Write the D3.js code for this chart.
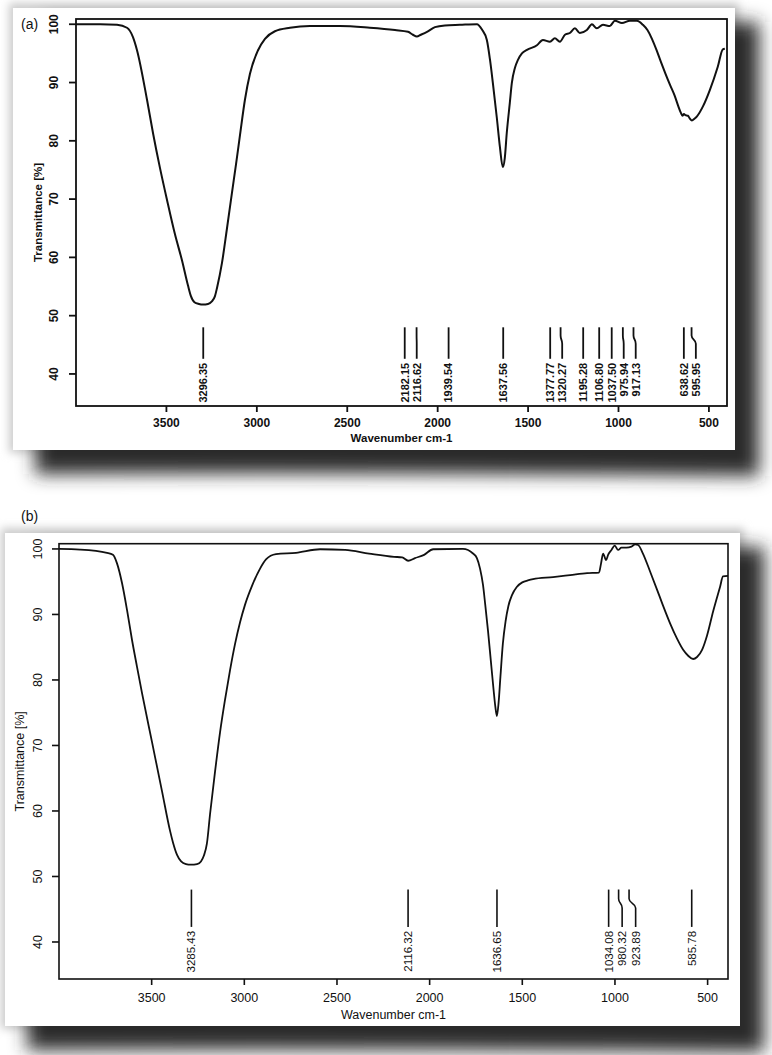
<!DOCTYPE html>
<html>
<head>
<meta charset="utf-8">
<script src="https://cdn.jsdelivr.net/npm/d3@7"></script>
<style>
  html, body { margin: 0; padding: 0; background: #ffffff; }
  svg { display: block; }
</style>
</head>
<body>
<div id="chart"></div>
<script>
// ---------------- DATA ----------------
// Panel (a) spectrum: wavenumber (cm-1) and transmittance (%)
const waveA = [4000,3867,3773,3718,3685,3663,3607,3574,3536,3497,3453,3414,3381,3365,3345,3320,3298,3270,3250,3232,3220,3193,3165,3138,3115,3093,3066,3038,2994,2955,2900,2817,2706,2540,2375,2236,2164,2137,2115,2093,2059,2015,1960,1877,1783,1755,1728,1711,1695,1673,1656,1640,1629,1618,1601,1590,1573,1556,1534,1506,1451,1418,1379,1352,1324,1296,1269,1241,1214,1175,1147,1120,1086,1048,1020,981,937,898,865,840,815,790,765,740,715,690,670,655,645,638,630,616,605,594,580,566,533,495,451,423,412];
const transA = [100.0,100.0,99.9,99.4,97.8,95.6,87.0,81.3,75.4,69.9,64.0,59.5,55.2,53.4,52.3,52.0,51.9,52.0,52.4,53.3,54.8,59.0,65.0,71.0,76.0,81.0,87.0,91.5,95.5,97.5,98.8,99.4,99.7,99.7,99.4,99.0,98.7,98.2,97.9,98.2,98.7,99.5,99.8,99.9,100.0,99.1,97.3,94.0,90.0,84.0,79.0,75.5,77.0,81.3,86.5,89.9,92.5,93.9,95.0,95.6,96.4,97.3,97.0,97.6,97.0,98.2,98.5,99.3,98.5,99.0,100.0,99.3,99.9,99.7,100.6,100.2,100.6,100.6,99.9,99.0,97.5,95.6,93.5,91.5,89.6,87.8,86.0,84.8,84.3,84.6,84.4,84.3,83.8,83.5,83.8,84.2,85.9,88.7,92.7,95.7,95.8];
const peaksA = [3296.35,2182.15,2116.62,1939.54,1637.56,1377.77,1320.27,1195.28,1106.80,1037.50,975.94,917.13,638.62,595.95];
const peakLabelsA = ["3296.35","2182.15","2116.62","1939.54","1637.56","1377.77","1320.27","1195.28","1106.80","1037.50","975.94","917.13","638.62","595.95"];

// Panel (b) spectrum
const waveB = [4000,3887,3741,3709,3687,3660,3633,3606,3579,3552,3498,3444,3401,3385,3363,3341,3315,3288,3255,3234,3218,3202,3185,3158,3131,3104,3077,3050,3023,2996,2958,2915,2883,2829,2721,2591,2456,2327,2192,2148,2116,2079,2030,1981,1820,1766,1745,1728,1712,1700,1685,1670,1655,1645,1637,1628,1618,1605,1590,1575,1555,1530,1500,1470,1442,1334,1242,1150,1086,1075,1064,1048,1037,1019,1001,983,965,938,911,891,875,849,811,773,740,702,665,632,605,578,557,530,503,470,433,417,390];
const transB = [100.0,99.9,99.4,99.1,97.8,94.8,90.7,86.1,82.0,78.0,70.5,63.0,57.0,55.2,53.3,52.3,51.9,51.8,51.9,52.3,53.2,55.0,59.5,66.0,72.0,77.0,81.5,85.5,88.8,91.5,94.4,97.0,98.4,99.2,99.4,99.95,99.85,99.3,98.8,98.7,98.2,98.6,99.1,99.95,100.0,99.3,98.6,97.0,94.5,91.5,87.5,83.0,78.5,75.8,74.5,76.5,80.5,85.5,89.0,91.3,93.0,94.2,94.9,95.2,95.4,95.7,96.0,96.3,96.4,97.8,99.3,98.3,99.1,99.85,100.5,99.85,100.2,100.2,100.35,100.7,100.6,99.3,96.6,93.8,91.3,88.6,86.3,84.6,83.7,83.2,83.5,84.6,86.8,90.5,94.2,95.8,95.9];
const peaksB = [3285.43,2116.32,1636.65,1034.08,980.32,923.89,585.78];
const peakLabelsB = ["3285.43","2116.32","1636.65","1034.08","980.32","923.89","585.78"];

// Axis tick values and labels
const xTicks = [3500,3000,2500,2000,1500,1000,500];
const yTicks = [40,50,60,70,80,90,100];
const xTitle = "Wavenumber cm-1";
const yTitle = "Transmittance [%]";
const panelTags = ["(a)","(b)"];

// ---------------- DRAW ----------------
const W = 772, H = 1055;
const svg = d3.select("#chart").append("svg").attr("width", W).attr("height", H);
const defs = svg.append("defs");
defs.append("filter").attr("id","blurShadow").attr("x","-20%").attr("y","-20%").attr("width","140%").attr("height","140%")
  .append("feGaussianBlur").attr("stdDeviation", 9);
defs.append("filter").attr("id","blurGlow").attr("x","-20%").attr("y","-20%").attr("width","140%").attr("height","140%")
  .append("feGaussianBlur").attr("stdDeviation", 4);

function drawPanel(cfg) {
  const g = svg.append("g");
  const c = cfg.card;
  // glow and page shadow
  g.append("rect").attr("x", c.x - 4).attr("y", c.y - 5).attr("width", c.w + 8).attr("height", c.h + 8)
    .attr("fill", "#cccccc").attr("filter", "url(#blurGlow)");
  g.append("path")
    .attr("d", `M${c.x + 30},${c.y + 14} L${c.x + c.w + 24},${c.y + 14} L${c.x + c.w + 24},${c.y + c.h + 26}
               Q${c.x + c.w * 0.5},${c.y + c.h + 22} ${c.x + 22},${c.y + c.h + 24} Z`)
    .attr("fill", "#2a2a2a").attr("filter", "url(#blurShadow)");
  g.append("rect").attr("x", c.x).attr("y", c.y).attr("width", c.w).attr("height", c.h).attr("fill", "#ffffff");

  const p = cfg.plot;
  const x = d3.scaleLinear().domain(cfg.xDomain).range([p.l, p.r]);
  const y = d3.scaleLinear().domain(cfg.yDomain).range([p.b, p.t]);
  const font = "'Liberation Sans', Arial, sans-serif";
  const fw = cfg.bold ? "bold" : "normal";

  // curve
  const pts = cfg.wave.map((w, i) => [w, cfg.trans[i]]);
  g.append("path").datum(pts)
    .attr("d", d3.line().x(d => x(d[0])).y(d => y(d[1])).curve(d3.curveMonotoneX))
    .attr("fill", "none").attr("stroke", "#111").attr("stroke-width", cfg.lineW).attr("stroke-linejoin", "round");

  // box
  g.append("rect").attr("x", p.l).attr("y", p.t).attr("width", p.r - p.l).attr("height", p.b - p.t)
    .attr("fill", "none").attr("stroke", "#111").attr("stroke-width", cfg.boxW);

  // x ticks
  xTicks.forEach(v => {
    g.append("line").attr("x1", x(v)).attr("x2", x(v)).attr("y1", p.b).attr("y2", p.b + 6)
      .attr("stroke", "#111").attr("stroke-width", cfg.boxW);
    g.append("text").attr("x", x(v)).attr("y", cfg.xTickY).attr("text-anchor", "middle")
      .attr("font-family", font).attr("font-weight", fw).attr("font-size", cfg.tickFs).attr("fill", "#111").text(v);
  });
  // y ticks
  yTicks.forEach(v => {
    g.append("line").attr("x1", p.l - 7).attr("x2", p.l).attr("y1", y(v)).attr("y2", y(v))
      .attr("stroke", "#111").attr("stroke-width", cfg.boxW);
    g.append("text").attr("x", cfg.yTickX).attr("y", y(v)).attr("dy", "0.35em")
      .attr("transform", `rotate(-90,${cfg.yTickX},${y(v)})`).attr("text-anchor", "middle")
      .attr("font-family", font).attr("font-weight", fw).attr("font-size", cfg.tickFs).attr("fill", "#111").text(v);
  });
  // titles
  g.append("text").attr("x", (p.l + p.r) / 2).attr("y", cfg.xTitleY).attr("text-anchor", "middle")
    .attr("font-family", font).attr("font-weight", fw).attr("font-size", cfg.titleFs).attr("fill", "#111").text(xTitle);
  const yc = (p.t + p.b) / 2;
  g.append("text").attr("x", cfg.yTitleX).attr("y", yc).attr("dy", "0.35em")
    .attr("transform", `rotate(-90,${cfg.yTitleX},${yc})`).attr("text-anchor", "middle")
    .attr("font-family", font).attr("font-weight", fw).attr("font-size", cfg.titleFs).attr("fill", "#111").text(yTitle);
  // tag
  g.append("text").attr("x", cfg.tag.x).attr("y", cfg.tag.y)
    .attr("font-family", "'Liberation Sans', Arial, sans-serif").attr("font-size", 14).attr("fill", "#111").text(cfg.tagText);

  // peak markers with simple label spacing
  const order = cfg.peaks.map((v, i) => i).sort((a, b) => x(cfg.peaks[a]) - x(cfg.peaks[b]));
  const lx = new Array(cfg.peaks.length);
  let prev = -Infinity;
  order.forEach(i => {
    const px = Math.max(x(cfg.peaks[i]), prev + cfg.minSep);
    lx[i] = px; prev = px;
  });
  const bump = d3.line().curve(d3.curveBumpY);
  cfg.peaks.forEach((v, i) => {
    const x0 = x(v), x1 = lx[i];
    const path = [[x0, y(48)], [x0, y(46.6)], [x1, y(45.2)], [x1, y(cfg.lineBottom)]];
    g.append("path").attr("d", bump(path)).attr("fill", "none").attr("stroke", "#111").attr("stroke-width", cfg.peakW);
    const ty = y(cfg.lineBottom) + 4;
    g.append("text").attr("x", x1).attr("y", ty).attr("dy", "0.35em")
      .attr("transform", `rotate(-90,${x1},${ty})`).attr("text-anchor", "end")
      .attr("font-family", font).attr("font-weight", fw).attr("font-size", cfg.peakFs).attr("fill", "#111")
      .text(cfg.peakLabels[i]);
  });
}

drawPanel({
  card: {x: 13, y: 8, w: 722, h: 442},
  plot: {l: 76, r: 727, t: 19, b: 406},
  xDomain: [4000, 400], yDomain: [34.5, 100.9],
  wave: waveA, trans: transA, peaks: peaksA, peakLabels: peakLabelsA,
  bold: true, tickFs: 12, titleFs: 11.5, peakFs: 11, minSep: 12, lineBottom: 42.6,
  lineW: 2, boxW: 1.8, peakW: 1.8,
  xTickY: 427, xTitleY: 442, yTickX: 54, yTitleX: 38,
  tag: {x: 21, y: 29}, tagText: panelTags[0]
});

drawPanel({
  card: {x: 5, y: 533, w: 735, h: 493},
  plot: {l: 59, r: 728, t: 543.7, b: 979},
  xDomain: [4000, 390], yDomain: [34.35, 100.8],
  wave: waveB, trans: transB, peaks: peaksB, peakLabels: peakLabelsB,
  bold: false, tickFs: 12.5, titleFs: 12.5, peakFs: 11.5, minSep: 13.5, lineBottom: 42.3,
  lineW: 1.8, boxW: 1.6, peakW: 1.6,
  xTickY: 1002, xTitleY: 1019, yTickX: 38, yTitleX: 20,
  tag: {x: 21, y: 521}, tagText: panelTags[1]
});
</script>
</body>
</html>
